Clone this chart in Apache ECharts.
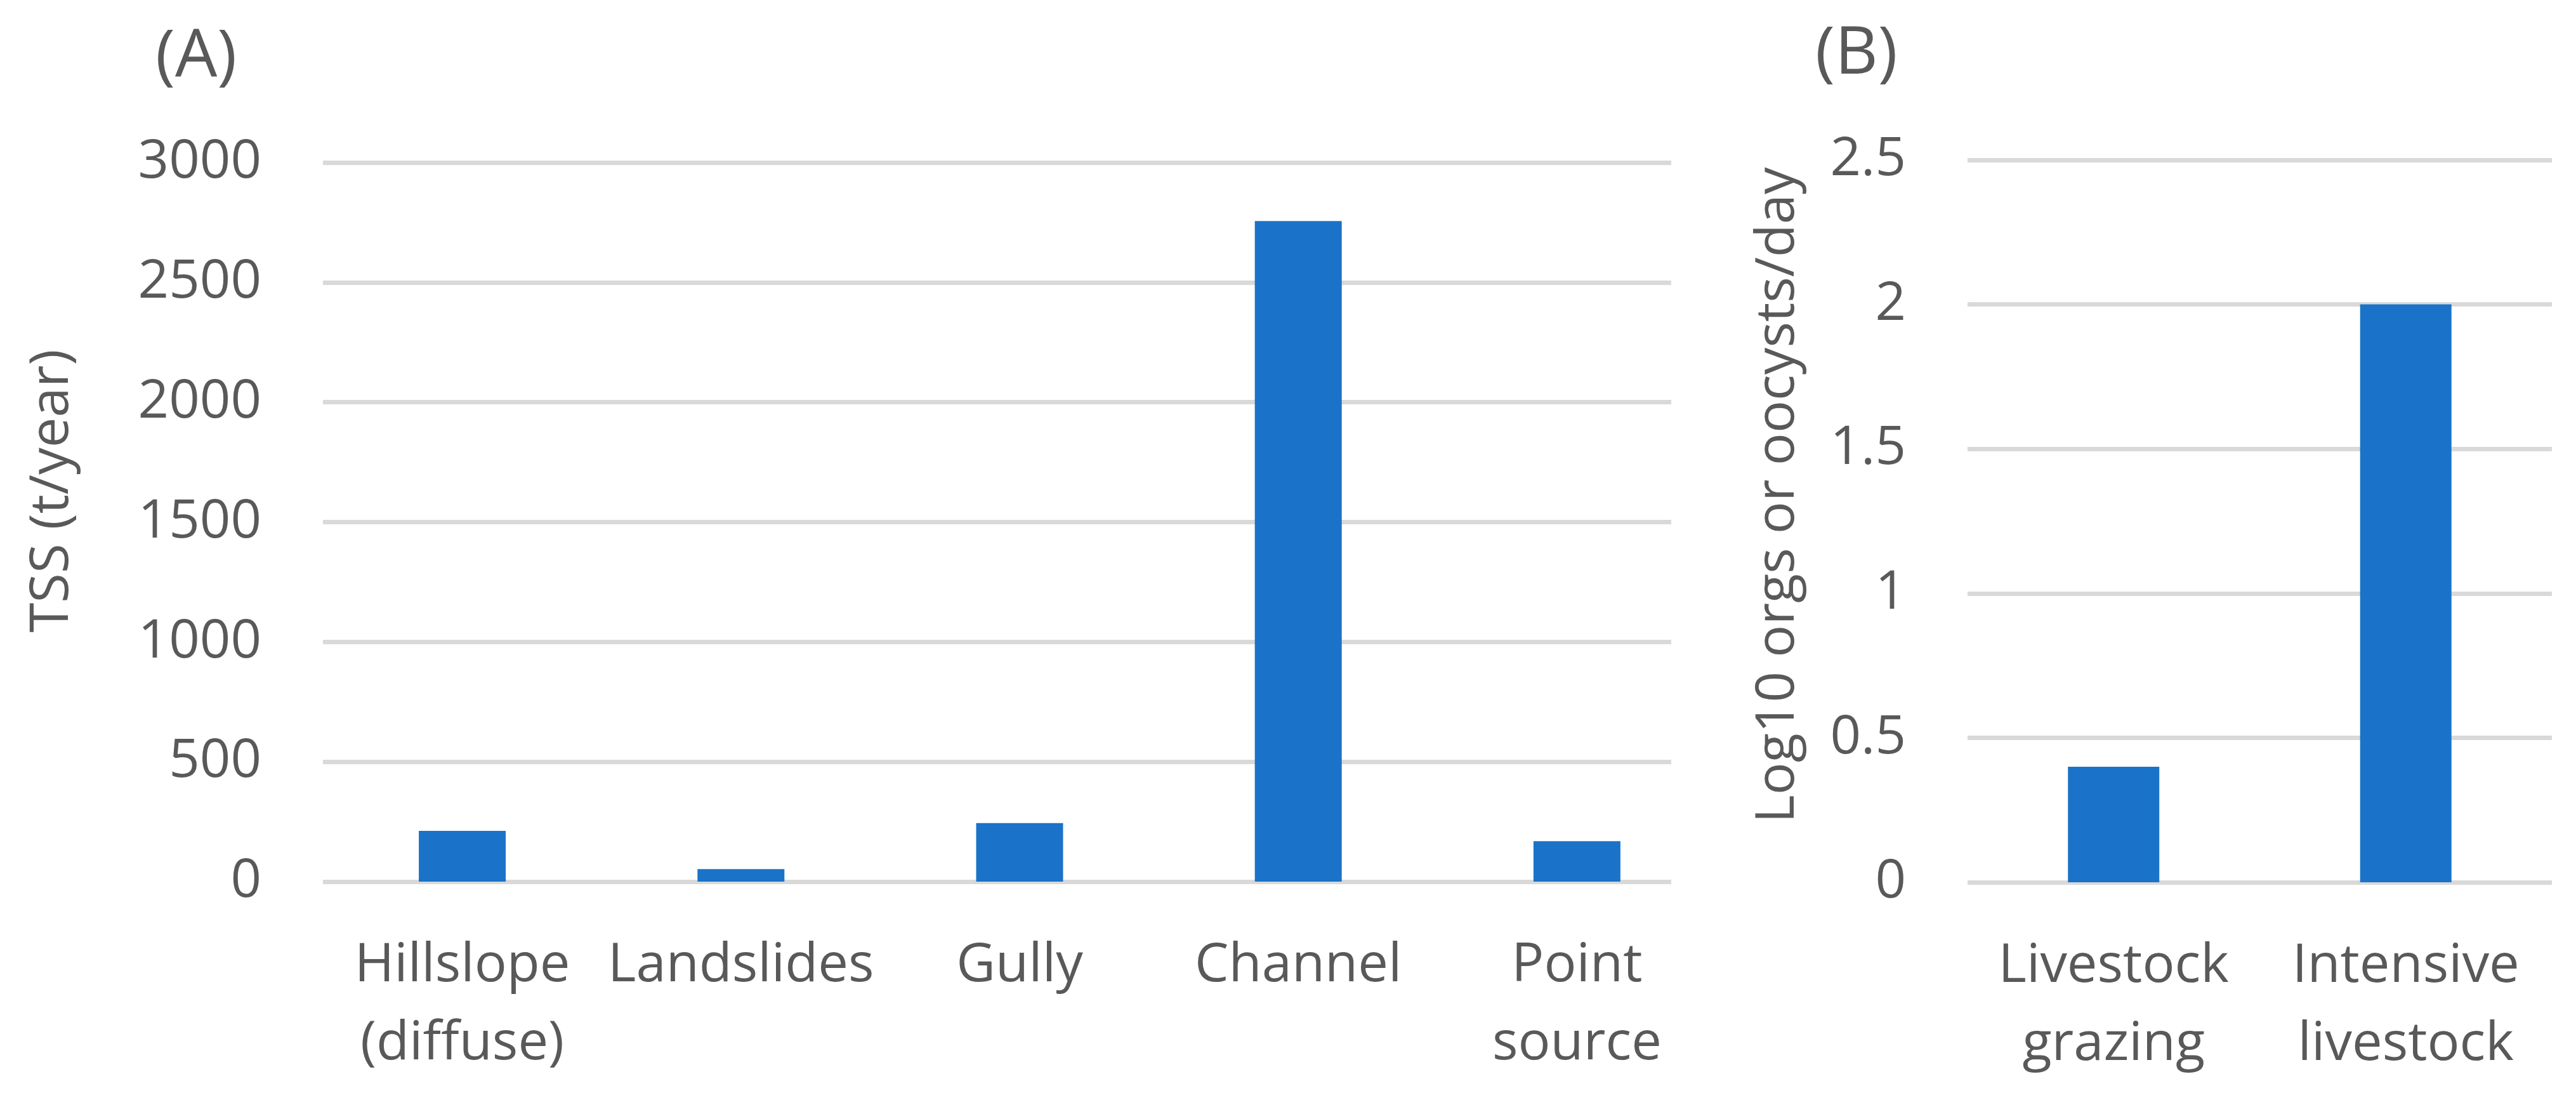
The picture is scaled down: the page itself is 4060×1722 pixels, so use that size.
<!DOCTYPE html>
<html>
<head>
<meta charset="utf-8">
<script src="https://cdn.jsdelivr.net/npm/echarts@6/dist/echarts.min.js"></script>
<style>
  html, body { margin: 0; padding: 0; background: #ffffff; }
  #chart { width: 4060px; height: 1722px; }
</style>
</head>
<body>
<div id="chart"></div>
<script>
// ---- data ----
const sedimentSources = ['Hillslope\n(diffuse)', 'Landslides', 'Gully', 'Channel', 'Point\nsource'];
const tssValues = [212, 52, 244, 2756, 169];
const pathogenSources = ['Livestock\ngrazing', 'Intensive\nlivestock'];
const log10Values = [0.4, 2.0];
const tssAxisMax = 3000;
const tssAxisStep = 500;
const logAxisMax = 2.5;
const logAxisStep = 0.5;
const panelLabels = ['(A)', '(B)'];
const axisTitles = ['TSS (t/year)', 'Log10 orgs or oocysts/day'];

// ---- style ----
const FONT = 'Open Sans';
const TXT = '#595959';
const GRID = '#d9d9d9';
const BAR = '#1a73c8';
const FS = 85;

const chart = echarts.init(document.getElementById('chart'));

const catLabel = {
  interval: 0,
  margin: 71,
  fontSize: FS,
  lineHeight: 123,
  color: TXT,
  fontFamily: FONT
};
const valLabel = {
  margin: 97,
  fontSize: FS,
  color: TXT,
  fontFamily: FONT,
  formatter: function (v) { return String(v); }
};

chart.setOption({
  backgroundColor: '#ffffff',
  animation: false,
  title: [
    { text: panelLabels[0], left: 245, top: 39, padding: 0,
      textStyle: { fontSize: 105, lineHeight: 105, fontWeight: 'normal', color: TXT, fontFamily: FONT } },
    { text: panelLabels[1], left: 2861, top: 34, padding: 0,
      textStyle: { fontSize: 105, lineHeight: 105, fontWeight: 'normal', color: TXT, fontFamily: FONT } }
  ],
  grid: [
    { left: 509, right: 1426, top: 256, bottom: 333 },
    { left: 509, width: 2196, top: 256, bottom: 333 },
    { left: 3101, right: 38, top: 252, bottom: 332 }
  ],
  xAxis: [
    { gridIndex: 0, type: 'category', data: sedimentSources, show: false },
    { gridIndex: 1, type: 'category', data: sedimentSources,
      axisLine: { show: false }, axisTick: { show: false }, axisLabel: catLabel },
    { gridIndex: 2, type: 'category', data: pathogenSources,
      axisLine: { show: false }, axisTick: { show: false }, axisLabel: catLabel }
  ],
  yAxis: [
    { gridIndex: 0, type: 'value', min: 0, max: tssAxisMax, interval: tssAxisStep,
      axisLine: { show: false }, axisTick: { show: false }, axisLabel: valLabel,
      splitLine: { show: true, lineStyle: { color: GRID, width: 7 } },
      name: axisTitles[0], nameLocation: 'middle', nameRotate: 90, nameGap: 384,
      nameTextStyle: { fontSize: FS, color: TXT, fontFamily: FONT, padding: [0, 0, 0, 98] } },
    { gridIndex: 1, type: 'value', min: 0, max: tssAxisMax, interval: tssAxisStep, show: false,
      splitLine: { show: false } },
    { gridIndex: 2, type: 'value', min: 0, max: logAxisMax, interval: logAxisStep,
      axisLine: { show: false }, axisTick: { show: false }, axisLabel: valLabel,
      splitLine: { show: true, lineStyle: { color: GRID, width: 7 } },
      name: axisTitles[1], nameLocation: 'middle', nameRotate: 90, nameGap: 256,
      nameTextStyle: { fontSize: FS, color: TXT, fontFamily: FONT, padding: [0, 0, 0, 82] } }
  ],
  series: [
    { type: 'bar', xAxisIndex: 1, yAxisIndex: 1, data: tssValues, barWidth: 137,
      itemStyle: { color: BAR }, z: 3 },
    { type: 'bar', xAxisIndex: 2, yAxisIndex: 2, data: log10Values, barWidth: 144,
      itemStyle: { color: BAR }, z: 3 }
  ]
});
</script>
</body>
</html>
